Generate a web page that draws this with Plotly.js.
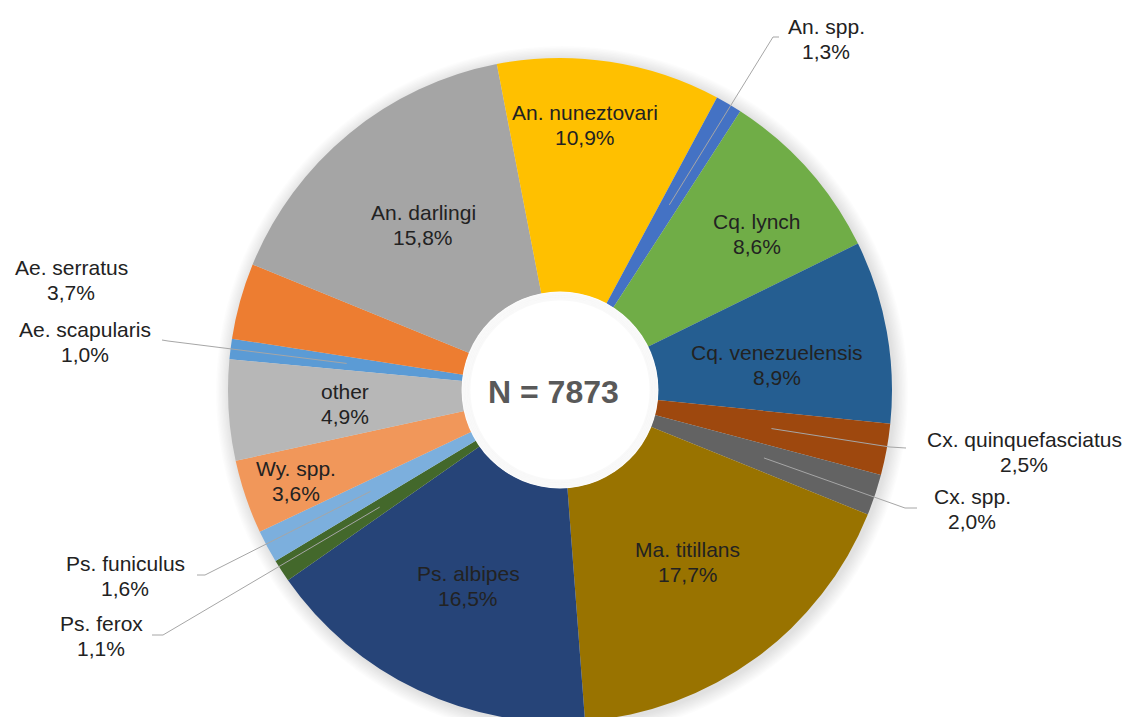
<!DOCTYPE html>
<html><head><meta charset="utf-8">
<script src="https://cdn.plot.ly/plotly-3.0.1.min.js"></script>
<style>html,body{margin:0;padding:0;overflow:hidden;background:#fff}#chart{width:1141px;height:730px}</style>
</head><body><div id="chart"></div>
<script>
// ---- data ----
const categories = ['Ae. scapularis','Ae. serratus','An. darlingi','An. nuneztovari','An. spp.','Cq. lynch','Cq. venezuelensis','Cx. quinquefasciatus','Cx. spp.','Ma. titillans','Ps. albipes','Ps. ferox','Ps. funiculus','Wy. spp.','other'];
const percentages = [1.0,3.7,15.8,10.9,1.3,8.6,8.9,2.5,2.0,17.7,16.5,1.1,1.6,3.6,4.9];
const totalN = 7873;
const sliceColors = ['#5B9BD5','#ED7D31','#A5A5A5','#FFC000','#4472C4','#70AD47','#255E91','#9E480E','#636363','#997300','#264478','#43682B','#7CAFDD','#F1975A','#B7B7B7'];

// ---- layout geometry (pixels) ----
const W = 1141, H = 730, CX = 560, CY = 390, R = 332, HOLE = 0.295, START = -84.7;
const FONT = 'Arial, "Liberation Sans", sans-serif';
const TXT = '#222222';
// label block centres (px)
const labelPos = {
  'Ae. scapularis':[85,342], 'Ae. serratus':[71,280], 'An. darlingi':[423,225], 'An. nuneztovari':[585,125],
  'An. spp.':[826,39], 'Cq. lynch':[757,234], 'Cq. venezuelensis':[777,365], 'Cx. quinquefasciatus':[1024,452],
  'Cx. spp.':[972,509], 'Ma. titillans':[688,562], 'Ps. albipes':[468,586], 'Ps. ferox':[101,636],
  'Ps. funiculus':[125,576], 'Wy. spp.':[296,481], 'other':[345,404]
};
// leader lines: [endX, endY, elbowX, elbowY] (px)
const leaders = {
  'An. spp.':[779,37,773,37], 'Cx. quinquefasciatus':[906,448,890,447], 'Cx. spp.':[917,508,905,508],
  'Ps. funiculus':[197,575,205,575], 'Ps. ferox':[152,635,163,635], 'Ae. scapularis':[162,340,168,341]
};

const px = x => x / W, py = y => 1 - y / H;

const trace = {
  type: 'pie', values: percentages, labels: categories, sort: false, direction: 'clockwise',
  rotation: START, hole: HOLE, textinfo: 'none', hoverinfo: 'label+percent',
  marker: {colors: sliceColors, line: {width: 0}}, showlegend: false,
  domain: {x: [px(CX - R), px(CX + R)], y: [py(CY + R), py(CY - R)]}
};

const total = percentages.reduce((a, b) => a + b, 0);
const rMid = (R * HOLE + R) / 2;
let acc = 0;
const annotations = [], shapes = [];

function circ(cx, cy, rr, fill, line, layer) {
  return {type:'circle', xref:'paper', yref:'paper', layer,
    x0:px(cx - rr), x1:px(cx + rr), y0:py(cy + rr), y1:py(cy - rr), fillcolor:fill, line};
}
// soft outer shadow
for (let k = 1; k <= 10; k++) shapes.push(circ(CX + 2, CY + 2, R + 1.4 * k, 'rgba(0,0,0,0.011)', {width:0}, 'below'));
// white hole with subtle bevel
const rh = R * HOLE;
shapes.push(circ(CX, CY, rh + 0.5, '#ffffff', {width:0}, 'above'));
for (let k = 0; k < 5; k++) shapes.push(circ(CX, CY, rh - 1 - 1.6 * k, 'rgba(0,0,0,0)', {width:2, color:'rgba(0,0,0,0.022)'}, 'above'));

categories.forEach((name, i) => {
  const v = percentages[i];
  const mid = (START + (acc + v / 2) / total * 360) * Math.PI / 180;
  acc += v;
  const pct = v.toFixed(1).replace('.', ',') + '%';
  const [lx, ly] = labelPos[name];
  [[name, ly - 12.5], [pct, ly + 12.5]].forEach(([t, yy]) => {
    annotations.push({text: t, xref:'paper', yref:'paper', x: px(lx), y: py(yy),
      xanchor:'center', yanchor:'middle', showarrow:false, font:{family:FONT, size:21, color:TXT}});
  });
  if (leaders[name]) {
    const [ex, ey, bx, by] = leaders[name];
    const ix = CX + rMid * Math.sin(mid), iy = CY - rMid * Math.cos(mid);
    shapes.push({type:'path', xref:'paper', yref:'paper', layer:'above',
      path:`M ${px(ex)} ${py(ey)} L ${px(bx)} ${py(by)} L ${px(ix)} ${py(iy)}`,
      line:{color:'#A6A6A6', width:1}});
  }
});

annotations.push({text: '<b>N = ' + totalN + '</b>', xref:'paper', yref:'paper', x: px(553), y: py(392),
  xanchor:'center', yanchor:'middle', showarrow:false, font:{family:FONT, size:32, color:'#595959'}});

Plotly.newPlot('chart', [trace], {
  width: W, height: H, margin: {l:0, r:0, t:0, b:0},
  paper_bgcolor:'#fff', plot_bgcolor:'#fff', showlegend:false,
  annotations, shapes
}, {displayModeBar:false, staticPlot:true});
</script></body></html>
